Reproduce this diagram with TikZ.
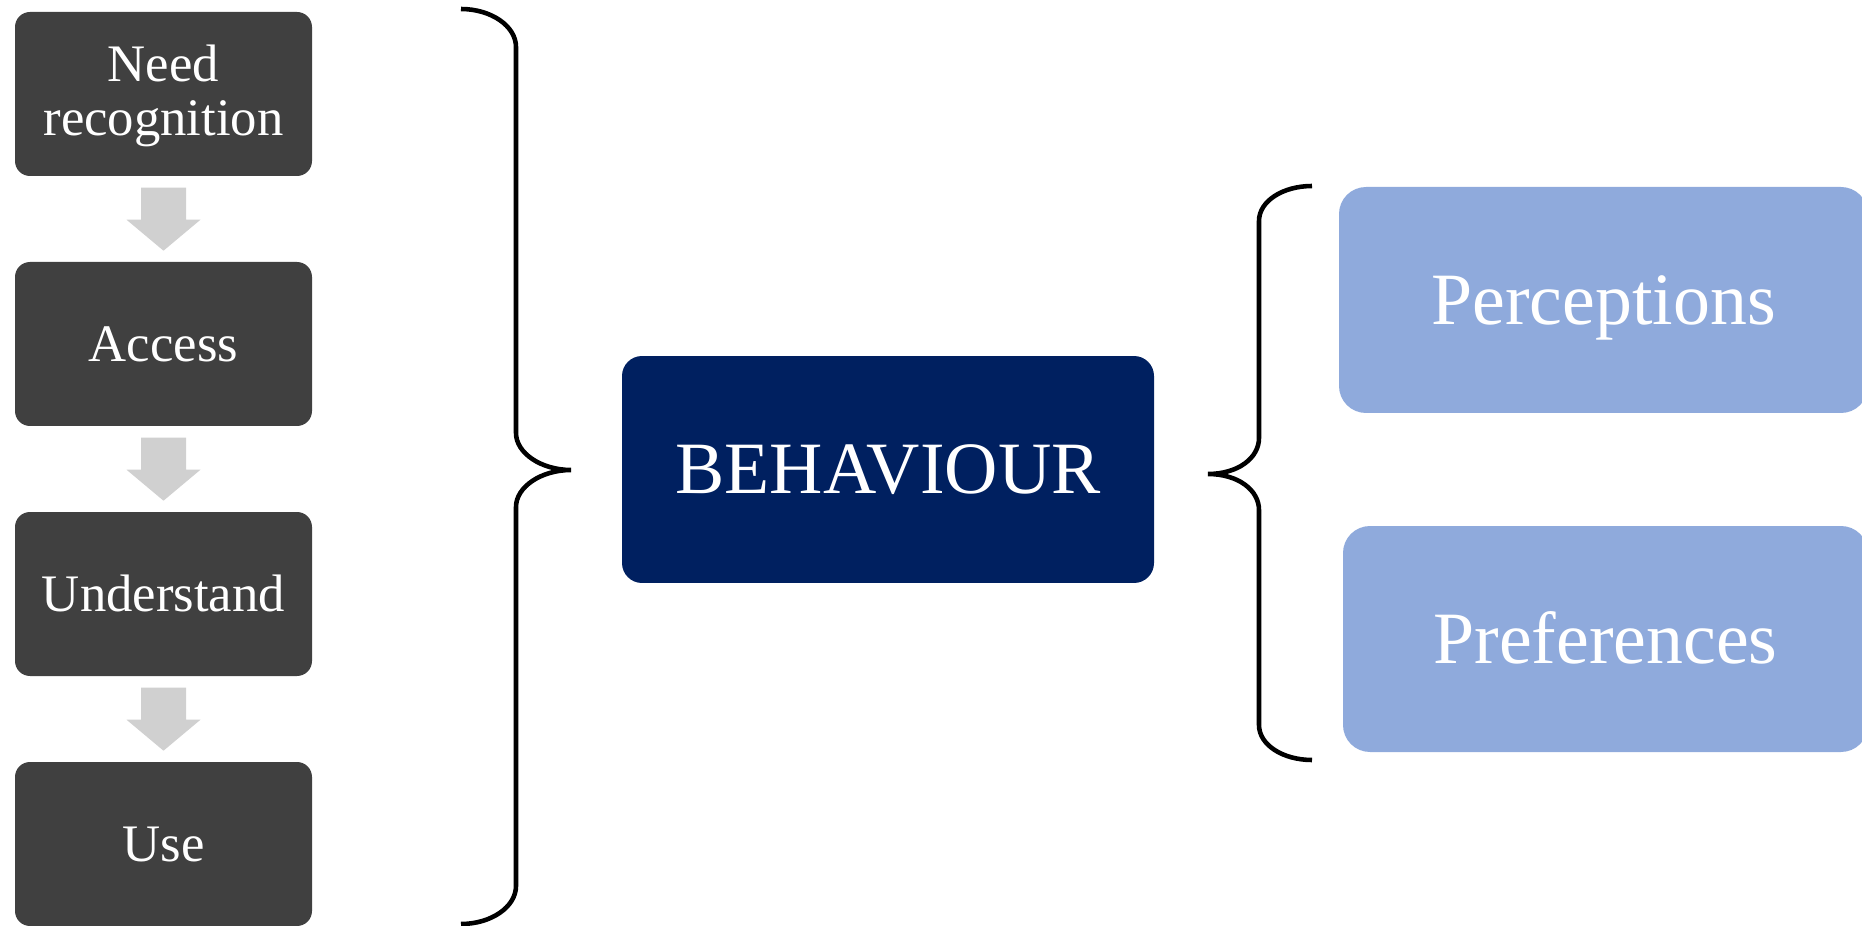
\documentclass[tikz,border=0pt]{standalone}
\usepackage{fontspec}
\setmainfont{Liberation Serif}
\usepackage{tikz}

\definecolor{stepgrey}{HTML}{404040}
\definecolor{navy}{HTML}{002060}
\definecolor{lightblue}{HTML}{8FAADC}
\definecolor{arrowgrey}{HTML}{D0D0D0}

\begin{document}
\begin{tikzpicture}[x=0.1mm, y=-0.1mm,
    stepbox/.style={fill=stepgrey, text=white, rounded corners=1.5mm, inner sep=0pt,
      minimum width=29.7mm, minimum height=16.4mm, align=center,
      font=\fontsize{15pt}{15.4pt}\selectfont, text height=9.8pt, text depth=0pt},
    mainbox/.style={fill=navy, text=white, rounded corners=2mm, inner sep=0pt,
      minimum width=53.2mm, minimum height=22.7mm,
      font=\fontsize{21pt}{25pt}\selectfont, text height=13.8pt, text depth=0pt},
    sidebox/.style={fill=lightblue, text=white, rounded corners=2.7mm, inner sep=0pt,
      minimum height=22.6mm,
      font=\fontsize{21pt}{25pt}\selectfont, text height=13.8pt, text depth=0pt},
    brace/.style={line width=1.3pt}]
  \useasboundingbox (0,0) rectangle (1862,926);

  % steps on the left
  \node[stepbox, text height=25.2pt, text depth=1.6pt] (need) at (163.5,94) {Need\\recognition};
  \node[stepbox] (access) at (163.5,344) {Access};
  \node[stepbox] (understand) at (163.5,594) {Understand};
  \node[stepbox] (use) at (163.5,844) {Use};

  \foreach \a in {need, access, understand}
    \fill[arrowgrey, shift={(\a.south)}] (-22.5,11) -- (22.5,11) -- (22.5,43) -- (37,43)
      -- (0,74) -- (-37,43) -- (-22.5,43) -- cycle;

  % middle and right
  \node[mainbox] (behaviour) at (888,469.5) {BEHAVIOUR};
  \node[sidebox, minimum width=52.9mm] (perceptions) at (1603.5,300) {Perceptions};
  \node[sidebox, minimum width=52.5mm] (preferences) at (1605.5,639) {Preferences};

  % braces
  \draw[brace] (461,9) .. controls (491,9) and (516,26) .. (516,47) -- (516,433)
    .. controls (516,453) and (541,470) .. (571,470)
    .. controls (541,470) and (516,487) .. (516,507) -- (516,886)
    .. controls (516,907) and (491,924) .. (461,924);
  \draw[brace] (1312,186) .. controls (1283,186) and (1259,201) .. (1259,221) -- (1259,438)
    .. controls (1259,458) and (1238,474) .. (1208,474)
    .. controls (1238,474) and (1259,490) .. (1259,510) -- (1259,725)
    .. controls (1259,745) and (1283,760) .. (1312,760);
\end{tikzpicture}
\end{document}
